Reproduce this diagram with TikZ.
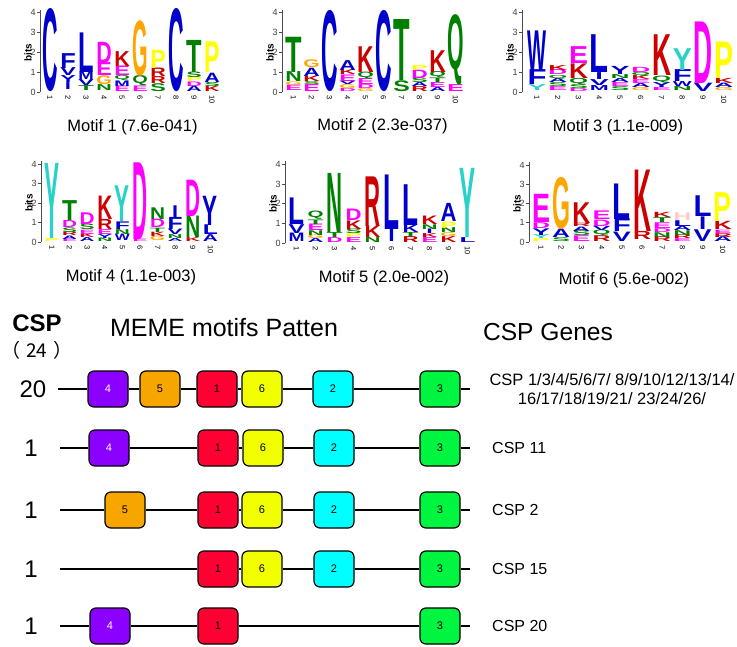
\documentclass[tikz,border=0pt]{standalone}
\usepackage{fontspec}
\setmainfont{Liberation Sans}
\newfontfamily\cjkfont{Noto Sans CJK SC}
\usepackage{graphicx}
\usetikzlibrary{positioning}
% logo letter colours
\definecolor{lb}{RGB}{0,0,204}
\definecolor{lm}{RGB}{255,0,255}
\definecolor{lr}{RGB}{204,0,0}
\definecolor{lg}{RGB}{0,128,0}
\definecolor{lo}{RGB}{255,165,0}
\definecolor{ly}{RGB}{255,255,0}
\definecolor{lc}{RGB}{40,210,200}
\definecolor{lp}{RGB}{255,204,204}
% motif box colours
\definecolor{cmot1}{RGB}{255,0,51}
\definecolor{cmot2}{RGB}{0,255,255}
\definecolor{cmot3}{RGB}{0,245,64}
\definecolor{cmot4}{RGB}{139,0,255}
\definecolor{cmot5}{RGB}{247,166,0}
\definecolor{cmot6}{RGB}{242,255,0}
\tikzset{
    %letter of a sequence logo
    logoletter/.style={inner sep=0pt, anchor=south, font=\bfseries},
    ticklab/.style={inner sep=1pt, text=black!75, font=\fontsize{9}{10}\selectfont},
    idxlab/.style={inner sep=0pt, rotate=-90, anchor=west, font=\fontsize{7.5}{8}\selectfont},
    bitslab/.style={inner sep=0pt, rotate=90, font=\bfseries\fontsize{10}{11}\selectfont},
    motiftitle/.style={font=\fontsize{16.5}{18}\selectfont},
    %motif boxes
    motif/.style={draw=black, line width=1.2pt, rounded corners=6pt,
           minimum width=40pt, minimum height=36pt, inner sep=0pt,
           font=\fontsize{11}{13}\selectfont},
    mot1/.style={motif, fill=cmot1},
    mot2/.style={motif, fill=cmot2},
    mot3/.style={motif, fill=cmot3},
    mot4/.style={motif, fill=cmot4, text=white},
    mot5/.style={motif, fill=cmot5},
    mot6/.style={motif, fill=cmot6},
    backbone/.style={line width=1.3pt},
    rowlab/.style={font=\fontsize{24}{26}\selectfont},
    genelab/.style={anchor=west, inner sep=0pt, font=\fontsize{16}{19}\selectfont}
}
% one logo column: #1 position, #2 letter/colour/from/to (bits)
\newcommand\logocol[2]{%
  \foreach \ch/\cl/\lo/\hi in {#2}{%
    \pgfmathsetmacro\hgt{max((\hi-\lo)*\bp,0.5)}%
    \def\tmpI{I}\edef\tmpch{\ch}%
    \ifx\tmpch\tmpI\pgfmathsetmacro\wdt{0.4*\cw}\else\pgfmathsetmacro\wdt{\cw}\fi
    \node[logoletter, text=\cl] at ({\cx+(#1-1)*\cs},{-\lo*\bp})
        {\resizebox*{\wdt pt}{\hgt pt}{\ch}};
  }}
% axis of a logo
\newcommand\logoaxis{%
  \draw[black!70, line width=0.8pt] (0,0) -- (0,{-4.15*\bp});
  \foreach \t in {0,...,4}{
    \draw[black!70, line width=0.8pt] (0,{-\t*\bp}) -- ++(-3,0)
        node[ticklab, anchor=east] (tk\t) {\t};}
  \node[bitslab] (bits) at (-12,{-2*\bp}) {bits};
  \foreach \i in {1,...,10}
    \node[idxlab] (ix\i) at ({\cx+(\i-1)*\cs},3) {\i};
}

\begin{document}
\begin{tikzpicture}[x=1pt,y=-1pt]
\useasboundingbox (0,0) rectangle (737,646);
%Motif 1
\begin{scope}[shift={(40,92)}]
\def\cx{10}\def\cs{18}\def\cw{15.5}\def\bp{19.8}
\logoaxis
\logocol{1}{C/lb/0/4.2}
\logocol{2}{I/lb/0.1/0.45, Y/lb/0.45/0.8, V/lb/0.8/1.2, F/lb/1.2/1.95}
\logocol{3}{T/lg/0.05/0.3, V/lb/0.3/0.6, M/lb/0.6/1.0, L/lb/1.0/3.0}
\logocol{4}{N/lg/0.05/0.35, G/lo/0.35/0.8, E/lm/0.8/1.45, D/lm/1.45/2.52}
\logocol{5}{E/lm/0/0.28, M/lb/0.28/0.56, Q/lg/0.56/0.82, E/lm/0.82/1.3, K/lr/1.3/2.05}
\logocol{6}{E/lm/0/0.28, Q/lg/0.28/0.8, G/lo/0.8/3.6}
\logocol{7}{S/lg/0/0.4, R/lr/0.4/0.75, R/lr/0.75/1.18, P/ly/1.18/2.1}
\logocol{8}{C/lb/0/4.2}
\logocol{9}{A/lb/0/0.27, D/lm/0.27/0.5, P/ly/0.5/0.7, S/lg/0.7/0.98, T/lg/0.98/2.6}
\logocol{10}{K/lr/0/0.27, S/lg/0.27/0.48, A/lb/0.48/0.95, P/ly/0.95/2.5}
\end{scope}
%Motif 2
\begin{scope}[shift={(282,92)}]
\def\cx{11.5}\def\cs{18}\def\cw{16.5}\def\bp{19.8}
\logoaxis
\logocol{1}{E/lm/0.05/0.32, G/lo/0.32/0.5, N/lg/0.5/1.0, T/lg/1.0/2.78}
\logocol{2}{E/lm/0/0.35, S/lg/0.35/0.5, K/lr/0.5/0.78, A/lb/0.78/1.2, G/lo/1.2/1.6}
\logocol{3}{C/lb/0/4.1}
\logocol{4}{D/lm/0/0.15, G/lo/0.15/0.35, V/lb/0.35/0.52, E/lm/0.52/0.85, K/lr/0.85/1.1, A/lb/1.1/1.6}
\logocol{5}{G/lo/0/0.15, D/lm/0.15/0.35, E/lm/0.35/0.65, Q/lg/0.65/1.0, K/lr/1.0/2.3}
\logocol{6}{C/lb/0/4.1}
\logocol{7}{S/lg/0/0.55, T/lg/0.55/3.63}
\logocol{8}{R/lr/0/0.25, A/lb/0.25/0.45, S/lg/0.45/0.68, D/lm/0.68/1.1, P/ly/1.1/1.35}
\logocol{9}{A/lb/0/0.2, E/lm/0.2/0.45, T/lg/0.45/0.68, Q/lg/0.68/1.0, K/lr/1.0/2.1}
\logocol{10}{E/lm/0/0.35, Q/lg/0.35/3.9}
\end{scope}
%Motif 3
\begin{scope}[shift={(522,92)}]
\def\cx{15}\def\cs{20.75}\def\cw{19}\def\bp{19.8}
\logoaxis
\logocol{1}{Y/lc/0.05/0.35, F/lb/0.35/1.1, W/lb/1.1/3.1}
\logocol{2}{E/lm/0.05/0.25, S/lg/0.25/0.45, A/lb/0.45/0.65, Q/lg/0.65/0.85, D/lm/0.85/1.1, K/lr/1.1/1.35}
\logocol{3}{D/lm/0/0.15, S/lg/0.15/0.35, Q/lg/0.35/0.68, K/lr/0.68/1.42, E/lm/1.42/2.27}
\logocol{4}{M/lb/0.05/0.3, V/lb/0.3/0.6, I/lb/0.6/0.95, L/lb/0.95/2.86}
\logocol{5}{S/lg/0.05/0.25, E/lm/0.25/0.45, A/lb/0.45/0.65, N/lg/0.65/0.85, Y/lb/0.85/1.26}
\logocol{6}{G/lo/0.05/0.2, A/lb/0.2/0.4, E/lm/0.4/0.6, K/lr/0.6/0.8, Q/lg/0.8/1.0, D/lm/1.0/1.26}
\logocol{7}{E/lm/0.05/0.2, Y/lb/0.2/0.45, Q/lg/0.45/0.8, K/lr/0.8/2.86}
\logocol{8}{N/lg/0.05/0.25, W/lb/0.25/0.5, F/lb/0.5/1.1, Y/lc/1.1/2.2}
\logocol{9}{V/lb/0/0.42, D/lm/0.42/3.53}
\logocol{10}{G/lo/0.05/0.2, A/lb/0.2/0.42, K/lr/0.42/0.68, P/ly/0.68/2.52}
\end{scope}
%Motif 4
\begin{scope}[shift={(41,242)}]
\def\cx{11}\def\cs{17.6}\def\cw{15}\def\bp{19.5}
\logoaxis
\logocol{1}{P/ly/0/0.15, Y/lc/0.15/4.0}
\logocol{2}{E/lm/0/0.12, A/lb/0.12/0.3, R/lr/0.3/0.48, S/lg/0.48/0.72, D/lm/0.72/1.08, T/lg/1.08/2.1}
\logocol{3}{A/lb/0/0.2, K/lr/0.2/0.4, E/lm/0.4/0.62, S/lg/0.62/0.9, D/lm/0.9/1.5}
\logocol{4}{N/lg/0/0.18, Y/lb/0.18/0.38, E/lm/0.38/0.63, R/lr/0.63/1.15, K/lr/1.15/2.35}
\logocol{5}{W/lb/0.05/0.38, N/lg/0.38/0.63, F/lb/0.63/1.02, Y/lc/1.02/2.85}
\logocol{6}{E/lm/0/0.12, D/lm/0.12/4.05}
\logocol{7}{G/lo/0.05/0.28, K/lr/0.28/0.5, T/lg/0.5/0.72, D/lm/0.72/1.15, N/lg/1.15/1.75}
\logocol{8}{A/lb/0/0.15, N/lg/0.15/0.35, V/lb/0.35/0.63, F/lb/0.63/1.25, I/lb/1.25/1.85}
\logocol{9}{K/lr/0/0.2, N/lg/0.2/1.3, D/lm/1.3/3.16}
\logocol{10}{A/lb/0/0.35, L/lb/0.35/0.85, Y/lb/0.85/2.35}
\end{scope}
%Motif 5
\begin{scope}[shift={(285,243)}]
\def\cx{11.5}\def\cs{19}\def\cw{16}\def\bp{19.7}
\logoaxis
\logocol{1}{M/lb/0.05/0.48, V/lb/0.48/0.93, L/lb/0.93/2.28}
\logocol{2}{A/lb/0/0.2, G/lo/0.2/0.38, N/lg/0.38/0.62, E/lm/0.62/0.95, T/lg/0.95/1.18, Q/lg/1.18/1.6}
\logocol{3}{D/lm/0/0.25, T/lg/0.25/0.5, N/lg/0.5/3.5}
\logocol{4}{E/lm/0/0.25, P/ly/0.25/0.45, S/lg/0.45/0.68, K/lr/0.68/1.12, D/lm/1.12/1.7}
\logocol{5}{N/lg/0/0.25, K/lr/0.25/0.84, R/lr/0.84/3.36}
\logocol{6}{I/lb/0.05/0.68, L/lb/0.68/3.45}
\logocol{7}{R/lr/0/0.3, T/lg/0.3/0.5, K/lb/0.5/0.88, L/lb/0.88/2.95}
\logocol{8}{E/lm/0/0.25, K/lr/0.25/0.45, I/lb/0.45/0.68, N/lg/0.68/0.92, K/lr/0.92/1.35}
\logocol{9}{K/lr/0/0.3, G/lo/0.3/0.5, N/lg/0.5/0.75, P/ly/0.75/1.08, A/lb/1.08/2.0}
\logocol{10}{L/lb/0/0.25, Y/lc/0.25/3.76}
\end{scope}
%Motif 6
\begin{scope}[shift={(529,242)}]
\def\cx{12}\def\cs{20.2}\def\cw{18}\def\bp{19.2}
\logoaxis
\logocol{1}{P/ly/0/0.15, Y/lc/0.15/0.35, Y/lb/0.35/0.7, D/lm/0.7/1.0, E/lm/1.0/2.47}
\logocol{2}{S/lg/0/0.2, A/lb/0.2/0.64, G/lo/0.64/3.34}
\logocol{3}{E/lm/0/0.3, S/lg/0.3/0.55, A/lb/0.55/0.78, R/lr/0.78/0.95, K/lr/0.95/2.03}
\logocol{4}{R/lr/0/0.3, Q/lg/0.3/0.6, V/lb/0.6/0.82, D/lm/0.82/1.15, E/lm/1.15/1.6}
\logocol{5}{V/lb/0.03/0.52, F/lb/0.52/1.18, L/lb/1.18/3.03}
\logocol{6}{R/lr/0.1/0.52, K/lr/0.52/3.72}
\logocol{7}{R/lr/0/0.25, N/lg/0.25/0.5, D/lm/0.5/0.7, E/lm/0.7/1.0, T/lg/1.0/1.25, K/lr/1.25/1.52}
\logocol{8}{E/lm/0/0.15, R/lr/0.15/0.35, N/lg/0.35/0.6, A/lb/0.6/0.82, L/lb/0.82/1.12, H/lp/1.12/1.52}
\logocol{9}{V/lb/0.03/0.64, I/lb/0.64/1.3, L/lb/1.3/2.38}
\logocol{10}{A/lb/0/0.25, R/lr/0.25/0.45, E/lm/0.45/0.62, K/lr/0.62/1.05, P/ly/1.05/2.55}
\end{scope}
%Titles
\node[motiftitle] (t1) at (132.5,127) {Motif 1 (7.6e-041)};
\node[motiftitle] (t2) at (382.5,126) {Motif 2 (2.3e-037)};
\node[motiftitle] (t3) at (618,127) {Motif 3 (1.1e-009)};
\node[motiftitle] (t4) at (131,277) {Motif 4 (1.1e-003)};
\node[motiftitle] (t5) at (384,278) {Motif 5 (2.0e-002)};
\node[motiftitle] (t6) at (624,280) {Motif 6 (5.6e-002)};
%Headers
\node[font=\bfseries\fontsize{24}{26}\selectfont] (csp) at (37,323) {CSP};
\node[font=\cjkfont\fontsize{19}{21}\selectfont] (cnt) at (37,350) {（\hspace{6pt}24\hspace{6pt}）};
\node[font=\fontsize{25}{27}\selectfont] (pat) at (224,328) {MEME motifs Patten};
\node[font=\fontsize{24.6}{27}\selectfont] (gen) at (548,332) {CSP Genes};
%Row 1
\node[rowlab] (n1) at (33,389) {20};
\coordinate (r1s) at (58,389);
\coordinate (r1e) at (470,389);
\node[mot4] (r1m4) at (108,389) {4};
\node[mot5] (r1m5) at (160,389) {5};
\node[mot1] (r1m1) at (217,389) {1};
\node[mot6] (r1m6) at (262,389) {6};
\node[mot2] (r1m2) at (333,389) {2};
\node[mot3] (r1m3) at (440,389) {3};
\draw[backbone] (r1s) -- (r1m4) -- (r1m5) -- (r1m1) -- (r1m6) -- (r1m2) -- (r1m3) -- (r1e);
\node[align=center, inner sep=0pt, font=\fontsize{16.5}{19}\selectfont] (g1) at (612,389)
    {CSP 1/3/4/5/6/7/ 8/9/10/12/13/14/\\16/17/18/19/21/ 23/24/26/};
%Row 2
\node[rowlab] (n2) at (31,448) {1};
\coordinate (r2s) at (60,448);
\coordinate (r2e) at (470,448);
\node[mot4] (r2m4) at (109,448) {4};
\node[mot1] (r2m1) at (218,448) {1};
\node[mot6] (r2m6) at (263,448) {6};
\node[mot2] (r2m2) at (334,448) {2};
\node[mot3] (r2m3) at (440,448) {3};
\draw[backbone] (r2s) -- (r2m4) -- (r2m1) -- (r2m6) -- (r2m2) -- (r2m3) -- (r2e);
\node[genelab] (g2) at (492,448) {CSP 11};
%Row 3
\node[rowlab] (n3) at (31,510) {1};
\coordinate (r3s) at (60,510);
\coordinate (r3e) at (470,510);
\node[mot5] (r3m5) at (125,510) {5};
\node[mot1] (r3m1) at (218,510) {1};
\node[mot6] (r3m6) at (262,510) {6};
\node[mot2] (r3m2) at (334,510) {2};
\node[mot3] (r3m3) at (440,510) {3};
\draw[backbone] (r3s) -- (r3m5) -- (r3m1) -- (r3m6) -- (r3m2) -- (r3m3) -- (r3e);
\node[genelab] (g3) at (492,510) {CSP 2};
%Row 4
\node[rowlab] (n4) at (31,569) {1};
\coordinate (r4s) at (60,569);
\coordinate (r4e) at (470,569);
\node[mot1] (r4m1) at (218,569) {1};
\node[mot6] (r4m6) at (262,569) {6};
\node[mot2] (r4m2) at (334,569) {2};
\node[mot3] (r4m3) at (440,569) {3};
\draw[backbone] (r4s) -- (r4m1) -- (r4m6) -- (r4m2) -- (r4m3) -- (r4e);
\node[genelab] (g4) at (492,569) {CSP 15};
%Row 5
\node[rowlab] (n5) at (31,626) {1};
\coordinate (r5s) at (60,626);
\coordinate (r5e) at (470,626);
\node[mot4] (r5m4) at (110,626) {4};
\node[mot1] (r5m1) at (218,626) {1};
\node[mot3] (r5m3) at (440,626) {3};
\draw[backbone] (r5s) -- (r5m4) -- (r5m1) -- (r5m3) -- (r5e);
\node[genelab] (g5) at (492,626) {CSP 20};
\end{tikzpicture}
\end{document}
